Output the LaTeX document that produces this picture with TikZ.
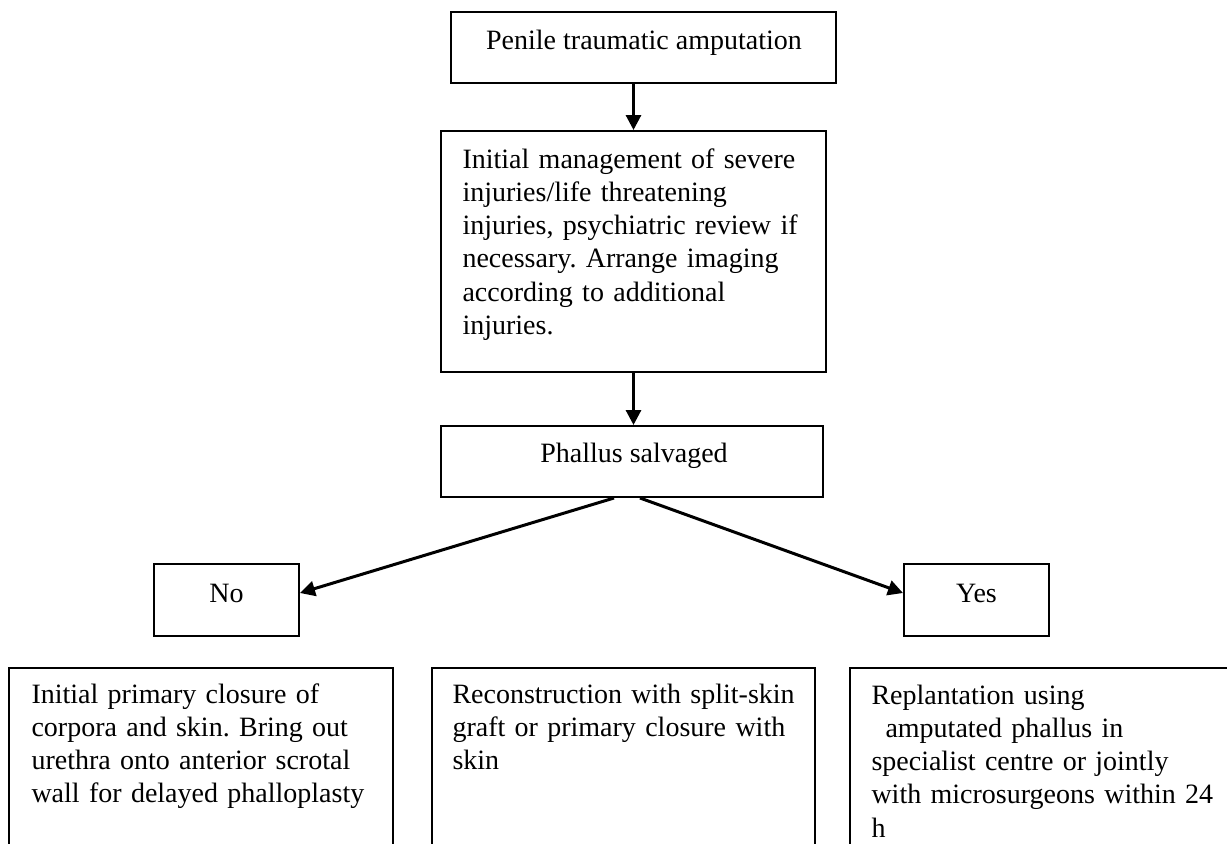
\documentclass[tikz,border=0pt]{standalone}
\usepackage{fontspec}
\setmainfont{Liberation Serif}
\usetikzlibrary{arrows.meta}
\frenchspacing

\begin{document}
\begin{tikzpicture}[x=0.4pt, y=-0.4pt, >={Triangle[length=6pt, width=6pt]}, font=\fontsize{11.2}{13.3}\selectfont]

    % Styles
    \tikzstyle{box}=[rectangle, draw, line width=0.8pt, inner sep=0pt]
    \tikzstyle{txt}=[inner sep=0pt, anchor=base west, align=left, text width=150pt]
    \tikzstyle{link}=[->, line width=1.2pt]

    \useasboundingbox (0,0) rectangle (1227,843);
    \clip (0,0) rectangle (1227,843);

    % Boxes
    \node[box, minimum width=154pt, minimum height=28.4pt] (amput) at (643.5,47.5) {};
    \node[box, minimum width=154pt, minimum height=96.4pt] (init) at (633.5,251.5) {};
    \node[box, minimum width=152.8pt, minimum height=28.4pt] (salv) at (632,461.5) {};
    \node[box, minimum width=58pt, minimum height=28.8pt] (no) at (226.5,600) {};
    \node[box, minimum width=58pt, minimum height=28.8pt] (yes) at (976.5,600) {};
    \node[box, minimum width=153.6pt, minimum height=92.8pt] (closure) at (201,784) {};
    \node[box, minimum width=153.2pt, minimum height=92.8pt] (recon) at (623.5,784) {};
    \node[box, minimum width=153.6pt, minimum height=92.8pt] (replant) at (1042,784) {};

    % Texts
    \node[inner sep=0pt, anchor=base] (amputtxt) at (644,49) {Penile traumatic amputation};
    \node[txt] (inittxt) at (462,168) {Initial management of severe\\injuries/life threatening\\injuries, psychiatric review if\\necessary. Arrange imaging\\according to additional\\injuries.};
    \node[inner sep=0pt, anchor=base] (salvtxt) at (634,462) {Phallus salvaged};
    \node[inner sep=0pt, anchor=base] (notxt) at (226.5,602) {No};
    \node[inner sep=0pt, anchor=base] (yestxt) at (976.5,602) {Yes};
    \node[txt] (closuretxt) at (31,703) {Initial primary closure of\\corpora and skin. Bring out\\urethra onto anterior scrotal\\wall for delayed phalloplasty};
    \node[txt] (recontxt) at (452,703) {Reconstruction with split-skin\\graft or primary closure with\\skin};
    \node[txt] (replanttxt) at (871,704) {Replantation using\\\hspace*{5.6pt}amputated phallus in\\specialist centre or jointly\\with microsurgeons within 24\\h};

    % Arrows
    \draw[link] (init.north |- amput.south) -- (init.north);
    \draw[link] (init.south) -- (init.south |- salv.north);
    \draw[link] ([xshift=-7.2pt]salv.south) -- ([yshift=2.8pt]no.east);
    \draw[link] ([xshift=3.2pt]salv.south) -- ([yshift=2.8pt]yes.west);

\end{tikzpicture}
\end{document}
